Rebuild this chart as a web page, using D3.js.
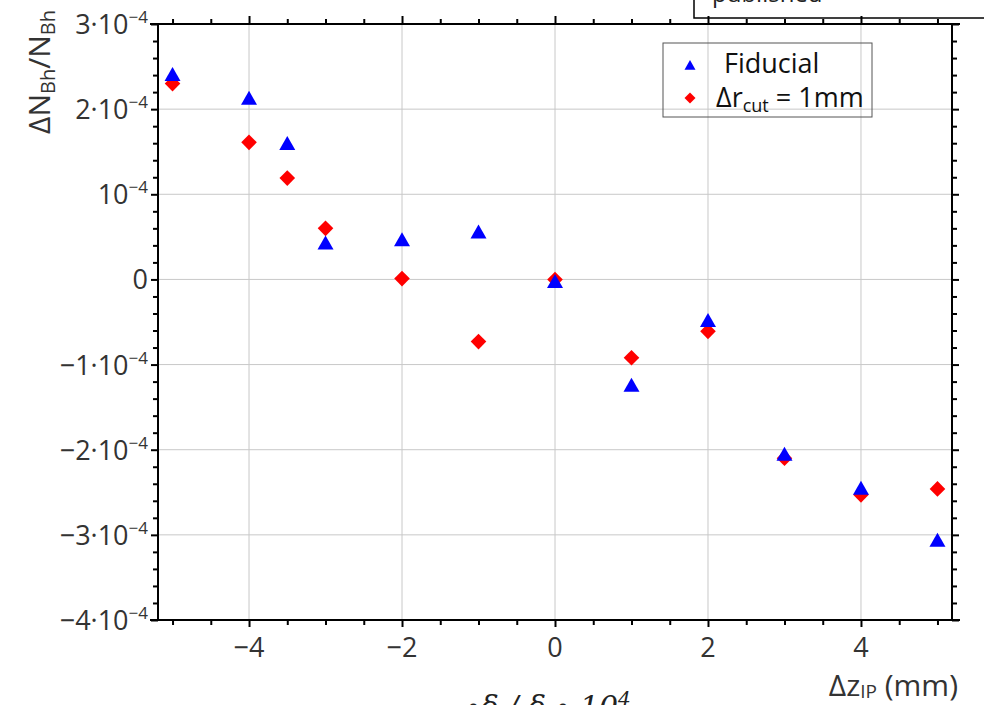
<!DOCTYPE html>
<html>
<head>
<meta charset="utf-8">
<script src="https://cdn.jsdelivr.net/npm/d3@7/dist/d3.min.js"></script>
<style>
  html, body { margin: 0; padding: 0; background: #fff; }
  svg { display: block; }
  text { font-family: "Open Sans", "Noto Sans", sans-serif; fill: #333; }
</style>
</head>
<body>
<svg id="chart" width="984" height="705"></svg>
<script>
// ---- data ----
const xValues = [-5, -4, -3.5, -3, -2, -1, 0, 1, 2, 3, 4, 5];
const fiducial = [2.41e-4, 2.13e-4, 1.60e-4, 0.43e-4, 0.47e-4, 0.56e-4, -0.02e-4, -1.24e-4, -0.48e-4, -2.05e-4, -2.45e-4, -3.06e-4];
const rcut1mm = [2.30e-4, 1.61e-4, 1.19e-4, 0.60e-4, 0.01e-4, -0.73e-4, 0.0, -0.92e-4, -0.61e-4, -2.10e-4, -2.53e-4, -2.46e-4];

const xMajorTicks = [-4, -2, 0, 2, 4];
const xMajorLabels = ["\u22124", "\u22122", "0", "2", "4"];
const xMinorTicks = [-5, -4.5, -3.5, -3, -2.5, -1.5, -1, -0.5, 0.5, 1, 1.5, 2.5, 3, 3.5, 4.5, 5];

const yMajorTicks = [3e-4, 2e-4, 1e-4, 0, -1e-4, -2e-4, -3e-4, -4e-4];
const yLabelMantissa = ["3\u00b710", "2\u00b710", "10", "0", "\u22121\u00b710", "\u22122\u00b710", "\u22123\u00b710", "\u22124\u00b710"];
const yLabelExponent = ["\u22124", "\u22124", "\u22124", "", "\u22124", "\u22124", "\u22124", "\u22124"];
const yMinorTicks = [28, 26, 24, 22, 18, 16, 14, 12, 8, 6, 4, 2, -2, -4, -6, -8, -12, -14, -16, -18,
  -22, -24, -26, -28, -32, -34, -36, -38].map(v => v * 1e-5);

const seriesNames = ["Fiducial", "\u0394r_cut = 1mm"];

// ---- layout ----
const svg = d3.select("#chart");
const pLeft = 158, pRight = 952, pTop = 24, pBottom = 620;
const x = d3.scaleLinear().domain([-5.19, 5.19]).range([pLeft, pRight]);
const y = d3.scaleLinear().domain([-4e-4, 3e-4]).range([pBottom, pTop]);

// "published" box (partially visible overlay)
svg.append("rect").attr("x", 694).attr("y", -60).attr("width", 320).attr("height", 78)
  .attr("fill", "#fff").attr("stroke", "#000").attr("stroke-width", 1.5);
svg.append("text").attr("x", 712).attr("y", 2).attr("font-size", 24).style("fill", "#222").text("published");

// grid
const grid = svg.append("g");
grid.selectAll("line.gx").data(xMajorTicks).enter().append("line")
  .attr("x1", d => x(d)).attr("x2", d => x(d)).attr("y1", pTop).attr("y2", pBottom)
  .attr("stroke", "#c8c8c8").attr("stroke-width", 1);
grid.selectAll("line.gy").data(yMajorTicks).enter().append("line")
  .attr("y1", d => y(d)).attr("y2", d => y(d)).attr("x1", pLeft).attr("x2", pRight)
  .attr("stroke", "#c8c8c8").attr("stroke-width", 1);

// axes (ticks via d3 axes)
function styleAxis(g) {
  g.select(".domain").remove();
  g.selectAll("line").attr("stroke", "#000").attr("stroke-width", 2);
  g.selectAll("text").remove();
}
svg.append("g").attr("transform", `translate(0,${pBottom})`)
  .call(d3.axisBottom(x).tickValues(xMinorTicks).tickSize(5)).call(styleAxis);
svg.append("g").attr("transform", `translate(0,${pBottom})`)
  .call(d3.axisBottom(x).tickValues(xMajorTicks).tickSize(7)).call(styleAxis);
svg.append("g").attr("transform", `translate(0,${pTop})`)
  .call(d3.axisTop(x).tickValues(xMinorTicks).tickSize(5)).call(styleAxis);
svg.append("g").attr("transform", `translate(0,${pTop})`)
  .call(d3.axisTop(x).tickValues(xMajorTicks).tickSize(8)).call(styleAxis);
svg.append("g").attr("transform", `translate(${pLeft},0)`)
  .call(d3.axisLeft(y).tickValues(yMinorTicks).tickSize(5)).call(styleAxis);
svg.append("g").attr("transform", `translate(${pLeft},0)`)
  .call(d3.axisLeft(y).tickValues(yMajorTicks).tickSize(7)).call(styleAxis);
svg.append("g").attr("transform", `translate(${pRight},0)`)
  .call(d3.axisRight(y).tickValues(yMinorTicks).tickSize(5)).call(styleAxis);
svg.append("g").attr("transform", `translate(${pRight},0)`)
  .call(d3.axisRight(y).tickValues(yMajorTicks).tickSize(7)).call(styleAxis);

// frame lines
const frame = svg.append("g").attr("stroke", "#000").attr("stroke-width", 2);
frame.append("line").attr("x1", pLeft - 8).attr("x2", pRight + 8).attr("y1", pBottom).attr("y2", pBottom);
frame.append("line").attr("x1", pLeft - 8).attr("x2", pRight + 8).attr("y1", pTop).attr("y2", pTop);
frame.append("line").attr("x1", pLeft).attr("x2", pLeft).attr("y1", pTop).attr("y2", pBottom);
frame.append("line").attr("x1", pRight).attr("x2", pRight).attr("y1", pTop).attr("y2", pBottom);

// x tick labels
svg.append("g").selectAll("text").data(xMajorTicks).enter().append("text")
  .attr("x", d => x(d)).attr("y", pBottom + 37).attr("text-anchor", "middle")
  .attr("font-size", 27).text((d, i) => xMajorLabels[i]);

// y tick labels
const yl = svg.append("g").selectAll("text").data(yMajorTicks).enter().append("text")
  .attr("x", pLeft - 10).attr("y", d => y(d) + 10).attr("text-anchor", "end").attr("font-size", 27);
yl.append("tspan").text((d, i) => yLabelMantissa[i]);
yl.append("tspan").attr("font-size", 17).attr("dy", -11).text((d, i) => yLabelExponent[i]);

// markers
const triPath = (s) => `M0,${-s * 0.9}L${s},${s * 0.85}L${-s},${s * 0.85}Z`;
const diaPath = (s) => `M0,${-s}L${s},0L0,${s}L${-s},0Z`;

svg.append("g").selectAll("path").data(xValues).enter().append("path")
  .attr("d", diaPath(7.8)).attr("fill", "#ff0000")
  .attr("transform", (d, i) => `translate(${x(d)},${y(rcut1mm[i])})`);
svg.append("g").selectAll("path").data(xValues).enter().append("path")
  .attr("d", triPath(8)).attr("fill", "#0000ff")
  .attr("transform", (d, i) => `translate(${x(d)},${y(fiducial[i])})`);

// legend
const lg = svg.append("g");
lg.append("rect").attr("x", 663).attr("y", 43).attr("width", 209).attr("height", 74)
  .attr("fill", "none").attr("stroke", "#555").attr("stroke-width", 1);
lg.append("path").attr("d", triPath(5.5)).attr("fill", "#0000ff").attr("transform", "translate(690,65)");
lg.append("path").attr("d", diaPath(5.5)).attr("fill", "#ff0000").attr("transform", "translate(690,98)");
lg.append("text").attr("x", 724).attr("y", 73).attr("font-size", 27).style("fill", "#111").text(seriesNames[0]);
const t2 = lg.append("text").attr("x", 716).attr("y", 107).attr("font-size", 27).style("fill", "#111");
t2.append("tspan").text("\u0394r");
t2.append("tspan").attr("font-size", 18).attr("dy", 5).text("cut");
t2.append("tspan").attr("dy", -5).text(" = 1mm");

// y axis title
const yt = svg.append("text").attr("transform", "translate(50,72) rotate(-90)")
  .attr("text-anchor", "middle").attr("font-size", 30);
yt.append("tspan").text("\u0394N");
yt.append("tspan").attr("font-size", 20).attr("dy", 5).text("Bh");
yt.append("tspan").attr("dy", -5).text("/N");
yt.append("tspan").attr("font-size", 20).attr("dy", 5).text("Bh");

// x axis title
const xt = svg.append("text").attr("x", 958).attr("y", 696).attr("text-anchor", "end").attr("font-size", 30);
xt.append("tspan").text("\u0394z");
xt.append("tspan").attr("font-size", 19).attr("dy", 2).text("IP");
xt.append("tspan").attr("dy", -2).text(" (mm)");

// partially visible text at bottom
const bt = svg.append("text").attr("x", 466).attr("y", 717)
  .style("font-family", "'DejaVu Serif', serif").style("font-style", "italic").attr("font-size", 30).style("fill", "#222");
bt.append("tspan").text("\u2219\u03b4 / \u03b4 \u2219 10");
bt.append("tspan").attr("font-size", 20).attr("dy", -11).text("4");
</script>
</body>
</html>
